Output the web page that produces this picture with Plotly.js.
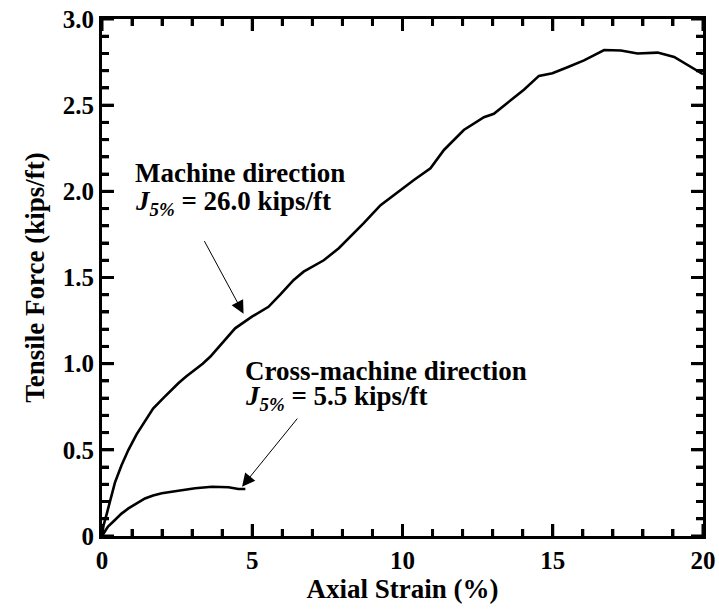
<!DOCTYPE html>
<html>
<head>
<meta charset="utf-8">
<script src="https://cdn.plot.ly/plotly-3.0.1.min.js"></script>
<style>
  html, body { margin: 0; padding: 0; background: #fff; }
  #chart { width: 719px; height: 609px; }
</style>
</head>
<body>
<div id="chart"></div>
<script>
// Machine direction curve
const machineStrain = [0, 0.05, 0.16, 0.27, 0.43, 0.65, 0.88, 1.15, 1.43, 1.7, 2.04, 2.3, 2.54, 2.8, 3.1, 3.35, 3.6, 3.99, 4.43, 4.99, 5.54, 5.93, 6.38, 6.71, 7.38, 7.88, 8.32, 8.71, 9.27, 9.71, 10.38, 10.93, 11.38, 12.04, 12.71, 13.04, 13.49, 14.04, 14.54, 14.99, 15.49, 16.04, 16.71, 17.27, 17.82, 18.49, 19.04, 19.6, 20.0];
const machineForce  = [0, 0.06, 0.13, 0.21, 0.31, 0.41, 0.50, 0.59, 0.67, 0.74, 0.80, 0.845, 0.886, 0.925, 0.963, 1.0, 1.04, 1.118, 1.205, 1.273, 1.33, 1.40, 1.486, 1.534, 1.60, 1.67, 1.747, 1.815, 1.92, 1.98, 2.066, 2.134, 2.24, 2.356, 2.43, 2.45, 2.515, 2.59, 2.67, 2.685, 2.72, 2.76, 2.82, 2.817, 2.80, 2.805, 2.78, 2.72, 2.68];

// Cross-machine direction curve
const crossStrain = [0, 0.1, 0.2, 0.43, 0.65, 0.88, 1.15, 1.43, 1.7, 1.99, 2.54, 3.1, 3.66, 4.21, 4.54, 4.77];
const crossForce  = [0, 0.03, 0.055, 0.093, 0.13, 0.16, 0.19, 0.218, 0.235, 0.248, 0.263, 0.277, 0.286, 0.283, 0.273, 0.273];

// Tick labels
const xTickVals = [0, 5, 10, 15, 20];
const xTickText = ['0', '5', '10', '15', '20'];
const yTickVals = [0, 0.5, 1.0, 1.5, 2.0, 2.5, 3.0];
const yTickText = ['0', '0.5', '1.0', '1.5', '2.0', '2.5', '3.0'];
const xMinorStep = 1;
const yMinorStep = 0.1;

// Annotation labels
const machineLabel = ['Machine direction', '<i>J</i><sub><i>5%</i></sub> = 26.0 kips/ft'];
const crossLabel = ['Cross-machine direction', '<i>J</i><sub><i>5%</i></sub> = 5.5 kips/ft'];

const FONT = 'Liberation Serif, Times New Roman, serif';
const TICKFS = 25;
const FS = 27;
const MAJLEN = 12, MINLEN = 7, TW = 3;

const traces = [
  { x: machineStrain, y: machineForce, type: 'scatter', mode: 'lines',
    line: { color: '#000', width: 2.6 }, showlegend: false },
  { x: crossStrain, y: crossForce, type: 'scatter', mode: 'lines',
    line: { color: '#000', width: 2.6 }, showlegend: false }
];

// Inside tick marks on all four sides, placed by the axes' own scales
function tickShapes() {
  const shapes = [];
  const line = { color: '#000', width: TW };
  const xMax = xTickVals[xTickVals.length - 1], yMax = yTickVals[yTickVals.length - 1];
  const nx = Math.round((xMax - xTickVals[0]) / xMinorStep);
  for (let i = 0; i <= nx; i++) {
    const v = xTickVals[0] + i * xMinorStep;
    const len = xTickVals.some(t => Math.abs(t - v) < 1e-9) ? MAJLEN : MINLEN;
    shapes.push({ type: 'line', xref: 'x', yref: 'paper', ysizemode: 'pixel', yanchor: 0, x0: v, x1: v, y0: 0, y1: len, line });
    shapes.push({ type: 'line', xref: 'x', yref: 'paper', ysizemode: 'pixel', yanchor: 1, x0: v, x1: v, y0: 0, y1: -len, line });
  }
  const ny = Math.round((yMax - yTickVals[0]) / yMinorStep);
  for (let i = 0; i <= ny; i++) {
    const v = +(yTickVals[0] + i * yMinorStep).toFixed(6);
    const len = yTickVals.some(t => Math.abs(t - v) < 1e-9) ? MAJLEN : MINLEN;
    shapes.push({ type: 'line', xref: 'paper', yref: 'y', xsizemode: 'pixel', xanchor: 0, y0: v, y1: v, x0: 0, x1: len, line });
    shapes.push({ type: 'line', xref: 'paper', yref: 'y', xsizemode: 'pixel', xanchor: 1, y0: v, y1: v, x0: 0, x1: -len, line });
  }
  return shapes;
}

const axisCommon = {
  showgrid: false, zeroline: false,
  showline: true, linecolor: '#000', linewidth: 3, mirror: 'ticks',
  ticks: 'inside', ticklen: MAJLEN, tickwidth: TW, tickcolor: '#000',
  tickfont: { family: FONT, size: TICKFS, color: '#000', weight: 'bold' }
};

const titleFont = { family: FONT, size: FS, color: '#000', weight: 'bold' };
const annFont = { family: FONT, size: FS, color: '#000' };

const layout = {
  width: 719, height: 609,
  margin: { l: 102, r: 16, t: 19, b: 73 },
  xaxis: Object.assign({}, axisCommon, {
    range: [0, 20], tickmode: 'array', tickvals: xTickVals, ticktext: xTickText,
    minor: { dtick: xMinorStep, ticks: 'inside', ticklen: MINLEN, tickwidth: TW, tickcolor: '#000' },
    title: { text: 'Axial Strain (%)', font: titleFont, standoff: 5 }
  }),
  yaxis: Object.assign({}, axisCommon, {
    range: [0, 3.0], tickmode: 'array', tickvals: yTickVals, ticktext: yTickText,
    minor: { dtick: yMinorStep, ticks: 'inside', ticklen: MINLEN, tickwidth: TW, tickcolor: '#000' },
    title: { text: 'Tensile Force (kips/ft)', font: titleFont, standoff: 11 }
  }),
  shapes: tickShapes(),
  annotations: [
    { x: 1.03, y: 2.107, xref: 'x', yref: 'y', text: '<b>' + machineLabel[0] + '</b>', showarrow: false,
      xanchor: 'left', yanchor: 'middle', font: annFont },
    { x: 1.03, y: 1.93, xref: 'x', yref: 'y', text: '<b>' + machineLabel[1] + '</b>', showarrow: false,
      xanchor: 'left', yanchor: 'middle', font: annFont },
    { x: 4.7, y: 0.955, xref: 'x', yref: 'y', text: '<b>' + crossLabel[0] + '</b>', showarrow: false,
      xanchor: 'left', yanchor: 'middle', font: annFont },
    { x: 4.7, y: 0.80, xref: 'x', yref: 'y', text: '<b>' + crossLabel[1] + '</b>', showarrow: false,
      xanchor: 'left', yanchor: 'middle', font: annFont },
    { x: 4.71, y: 1.29, xref: 'x', yref: 'y', ax: 3.38, ay: 1.72, axref: 'x', ayref: 'y',
      text: '', showarrow: true, arrowhead: 2, arrowsize: 2.6, arrowwidth: 1, arrowcolor: '#000', standoff: 0 },
    { x: 4.66, y: 0.286, xref: 'x', yref: 'y', ax: 6.54, ay: 0.69, axref: 'x', ayref: 'y',
      text: '', showarrow: true, arrowhead: 2, arrowsize: 2.6, arrowwidth: 1, arrowcolor: '#000', standoff: 0 }
  ]
};

Plotly.newPlot('chart', traces, layout, { staticPlot: true, displayModeBar: false });
</script>
</body>
</html>
